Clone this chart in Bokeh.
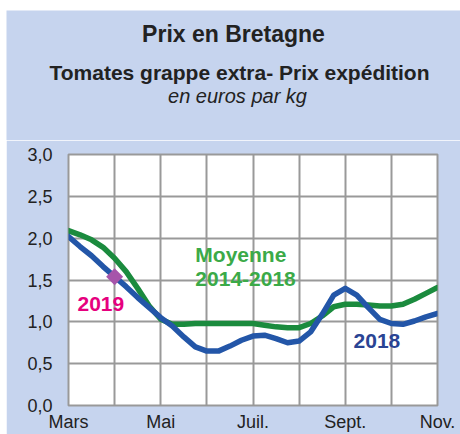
import math
from bokeh.plotting import figure
from bokeh.layouts import column
from bokeh.models import FixedTicker, Label, ColumnDataSource
from bokeh.embed import file_html
from bokeh.resources import INLINE

# Quarter-month positions: 0 = Mars, 1 = Avril, ... 8 = Novembre
positions = [i * 0.25 for i in range(33)]
prix_2018 = [2.02, 1.90, 1.79, 1.66, 1.54, 1.42, 1.29, 1.17,
             1.05, 0.95, 0.82, 0.70, 0.65, 0.65, 0.71, 0.78,
             0.83, 0.84, 0.80, 0.75, 0.77, 0.88, 1.09, 1.32,
             1.40, 1.32, 1.17, 1.03, 0.98, 0.97, 1.01, 1.06, 1.10]
moyenne_2014_2018 = [2.09, 2.04, 1.98, 1.89, 1.76, 1.60, 1.40, 1.19,
                     1.03, 0.97, 0.97, 0.98, 0.98, 0.98, 0.98, 0.98,
                     0.98, 0.96, 0.94, 0.93, 0.93, 0.98, 1.07, 1.18,
                     1.21, 1.21, 1.20, 1.19, 1.19, 1.21, 1.27, 1.34, 1.41]
point_2019_x = [1]
point_2019_y = [1.54]

month_ticks = [0, 2, 4, 6, 8]
month_labels = ["Mars", "Mai", "Juil.", "Sept.", "Nov."]
y_ticks = [0, 0.5, 1, 1.5, 2, 2.5, 3]
y_labels = ["0,0", "0,5", "1,0", "1,5", "2,0", "2,5", "3,0"]

title_text = "Prix en Bretagne"
subtitle_text = "Tomates grappe extra- Prix expédition"
unit_text = "en euros par kg"

BG = "#C6D4EE"
FONT = "Liberation Sans"
INK = "#222222"
W = 454
HEAD_H = 130
TOTAL_H = 424

# ---- header (titles) ----
head = figure(width=W, height=HEAD_H, x_range=(0, W), y_range=(HEAD_H, 0),
              x_axis_type=None, y_axis_type=None, output_backend="svg",
              toolbar_location=None, min_border=0)
head.frame_align = False
head.background_fill_color = BG
head.border_fill_color = BG
head.outline_line_color = None
head.grid.visible = False

def hlab(x, y, text, size, style):
    head.add_layout(Label(x=x, y=y, text=text, text_font=FONT, text_font_size=size,
                          text_font_style=style, text_color=INK, text_align="center",
                          text_baseline="middle"))

hlab(227, 23, title_text, "23px", "bold")
hlab(233, 61.5, subtitle_text, "21px", "bold")
hlab(231, 85, unit_text, "20px", "italic")

# ---- chart ----
p = figure(width=W, height=TOTAL_H - HEAD_H, x_range=(0, 8), y_range=(0, 3),
           output_backend="svg", toolbar_location=None,
           min_border_left=62, min_border_right=23, min_border_top=14,
           min_border_bottom=27)
p.frame_align = False
p.background_fill_color = "white"
p.border_fill_color = BG
p.outline_line_color = "#999999"
p.outline_line_width = 2

xaxis = p.below[0]
yaxis = p.left[0]
xaxis.ticker = FixedTicker(ticks=month_ticks)
xaxis.major_label_overrides = {t: l for t, l in zip(month_ticks, month_labels)}
yaxis.ticker = FixedTicker(ticks=y_ticks)
yaxis.major_label_overrides = {t: l for t, l in zip(y_ticks, y_labels)}
for ax in (xaxis, yaxis):
    ax.axis_line_color = None
    ax.major_tick_line_color = None
    ax.minor_tick_line_color = None
    ax.major_tick_out = 0
    ax.major_tick_in = 0
    ax.minor_tick_out = 0
    ax.minor_tick_in = 0
    ax.major_label_text_font = FONT
    ax.major_label_text_font_size = "18px"
    ax.major_label_text_color = INK
xaxis.major_label_standoff = 6
yaxis.major_label_standoff = 16

p.xgrid.ticker = FixedTicker(ticks=list(range(9)))
p.ygrid.ticker = FixedTicker(ticks=y_ticks)
for g in (p.xgrid, p.ygrid):
    g.grid_line_color = "#999999"
    g.grid_line_width = 2

src = ColumnDataSource(dict(x=positions, y18=prix_2018, ym=moyenne_2014_2018))
p.line("x", "ym", source=src, line_color="#1B8B3E", line_width=5.5, line_join="round", line_cap="round")
p.line("x", "y18", source=src, line_color="#2356A8", line_width=5.5, line_join="round", line_cap="round")
p.scatter(point_2019_x, point_2019_y, marker="square", size=12, angle=math.pi / 4,
          fill_color="#A655AA", line_color=None)

def lab(x, y, text, size, color):
    p.add_layout(Label(x=x, y=y, text=text, text_font=FONT, text_font_size=size,
                       text_font_style="bold", text_color=color, text_align="left",
                       text_baseline="middle"))

lab(0.195, 1.21, "2019", "21px", "#E6007E")
lab(6.18, 0.77, "2018", "21px", "#2A4494")
lab(2.75, 1.81, "Moyenne", "21px", "#3BAA48")
lab(2.75, 1.51, "2014-2018", "21px", "#3BAA48")

layout = column(head, p, spacing=0, margin=(10, 0, 0, 6))
open("out.html", "w").write(file_html(layout, INLINE))
